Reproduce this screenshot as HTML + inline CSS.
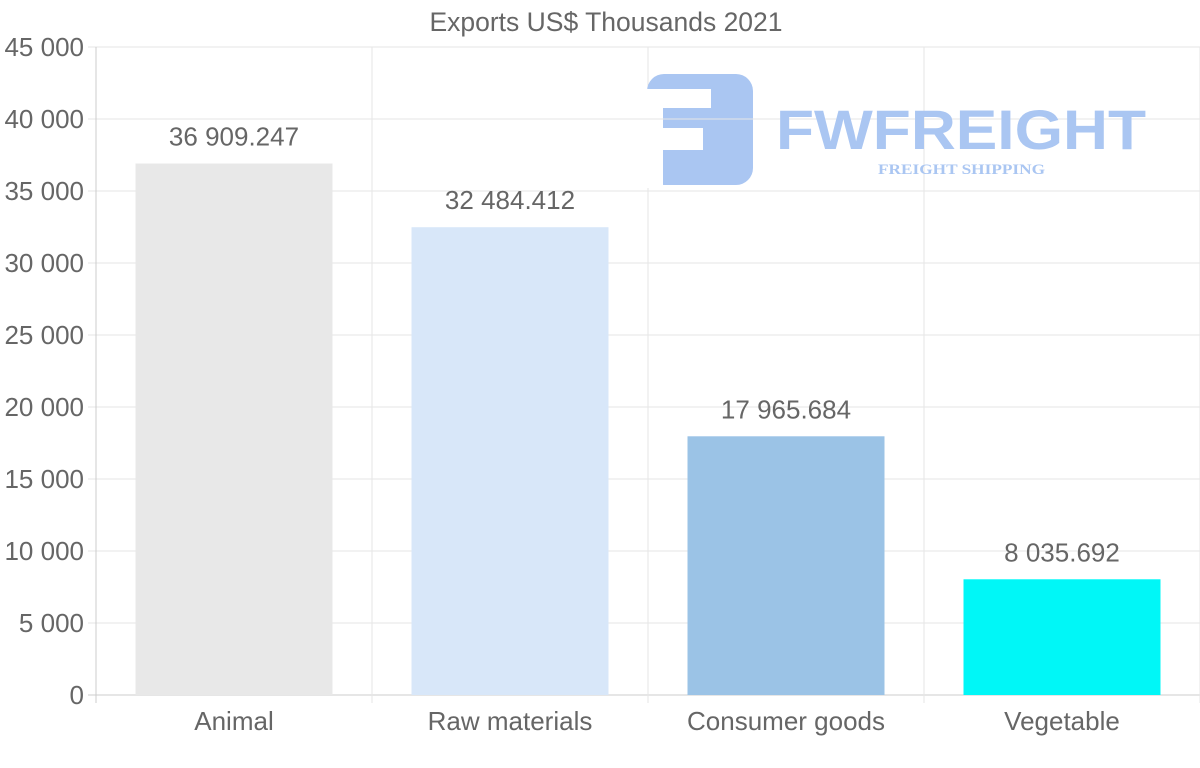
<!DOCTYPE html>
<html><head><meta charset="utf-8"><style>
body{margin:0;background:#fff;width:1200px;height:763px;overflow:hidden;font-family:"Liberation Sans",sans-serif}
svg text{font-family:"Liberation Sans",sans-serif;fill:#666}
</style></head><body>
<svg id="chart" width="1200" height="763" xmlns="http://www.w3.org/2000/svg">
<text x="606" y="31" font-size="26.5" text-anchor="middle">Exports US$ Thousands 2021</text>
<g id="grid"></g>
<g>
<rect x="647" y="74" width="106" height="111" rx="17" fill="#aac6f2"/>
<rect x="640" y="89" width="71" height="19" fill="#fff"/>
<rect x="640" y="108" width="23" height="80" fill="#fff"/>
<rect x="663" y="128" width="40" height="22" fill="#fff"/>
<line x1="640" y1="119" x2="753" y2="119" stroke="#e6e6e6"/>
<text x="776" y="149" font-size="56" font-weight="bold" style="fill:#aac6f2" textLength="370" lengthAdjust="spacingAndGlyphs">FWFREIGHT</text>
<text x="878" y="174" font-size="15" font-weight="bold" style="fill:#aac6f2;font-family:'Liberation Serif',serif" textLength="167" lengthAdjust="spacingAndGlyphs">FREIGHT SHIPPING</text>
</g>
<g id="bars"></g>
</svg>
<script>
const categories=["Animal","Raw materials","Consumer goods","Vegetable"];
const values=[36909.247,32484.412,17965.684,8035.692];
const valueLabels=["36 909.247","32 484.412","17 965.684","8 035.692"];
const ticks=[0,5000,10000,15000,20000,25000,30000,35000,40000,45000];
const tickLabels=["0","5 000","10 000","15 000","20 000","25 000","30 000","35 000","40 000","45 000"];
const colors=["#e8e8e8","#d8e7f9","#9bc3e6","#00f7f7"];
const NS="http://www.w3.org/2000/svg";
const L=96,R=1200,T=47,B=695,yMax=45000;
const y=v=>B-(v/yMax)*(B-T);
const bw=(R-L)/categories.length;
const x=i=>L+i*bw;
function mk(tag,attrs,parent){const e=document.createElementNS(NS,tag);for(const k in attrs)e.setAttribute(k,attrs[k]);parent.appendChild(e);return e;}
const grid=document.getElementById('grid');
ticks.forEach((t,i)=>{
 const ln=mk('line',{x1:88,x2:R,y1:y(t),y2:y(t),stroke:i==0?'#ccc':'#e6e6e6','stroke-width':1},grid);
 
 
 const tx=mk('text',{x:84,y:y(t)+9,'font-size':26,'text-anchor':'end'},grid);
 tx.textContent=tickLabels[i];
 
 
});
for(let i=0;i<=categories.length;i++){
 const ln=mk('line',{x1:x(i),x2:x(i),y1:T,y2:B+8,stroke:i==0?'#ccc':'#e6e6e6','stroke-width':1},grid);
 
 
}
const bars=document.getElementById('bars');
categories.forEach((c,i)=>{
 const cx=x(i)+bw/2,w=197;
 const r=mk('rect',{x:cx-w/2,y:y(values[i]),width:w,height:B-y(values[i]),fill:colors[i]},bars);
 
 
 const v=mk('text',{x:cx,y:y(values[i])-18,'font-size':26,'text-anchor':'middle'},bars);
 v.textContent=valueLabels[i];
 
 
 const l=mk('text',{x:cx,y:730,'font-size':26,'text-anchor':'middle'},bars);
 l.textContent=c;
 
 
});
</script>
</body></html>
